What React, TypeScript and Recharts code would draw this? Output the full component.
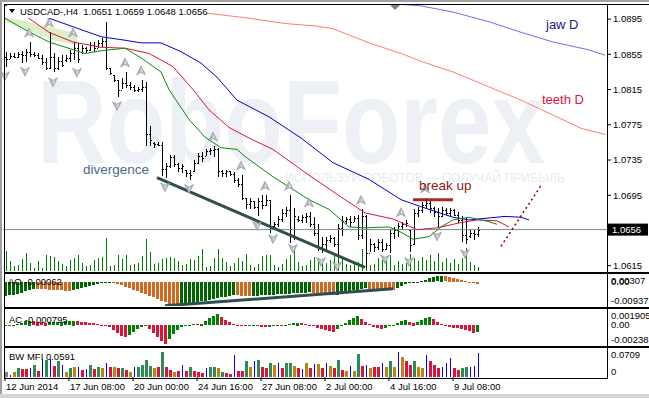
import React from 'react';
import { ComposedChart, Bar, Line, Area, XAxis, YAxis, ReferenceLine } from 'recharts';

// USDCAD H4, one slot = one bar, chart shifted right
const SLOTS = 151;
const FONT = "'Liberation Sans', Arial, sans-serif";

// [open, high, low, close]
const bars: number[][] = [
  [1.0852, 1.0858, 1.0841, 1.0850], [1.0850, 1.0856, 1.0849, 1.0853], [1.0853, 1.0856, 1.0850, 1.0852],
  [1.0852, 1.0858, 1.0851, 1.0855], [1.0855, 1.0859, 1.0845, 1.0854], [1.0854, 1.0861, 1.0846, 1.0858],
  [1.0858, 1.0869, 1.0852, 1.0855], [1.0855, 1.0858, 1.0852, 1.0854], [1.0854, 1.0856, 1.0849, 1.0851],
  [1.0851, 1.0854, 1.0843, 1.0846], [1.0846, 1.0851, 1.0837, 1.0840], [1.0840, 1.0880, 1.0838, 1.0852],
  [1.0852, 1.0856, 1.0834, 1.0840], [1.0840, 1.0852, 1.0837, 1.0847], [1.0847, 1.0854, 1.0840, 1.0843],
  [1.0848, 1.0854, 1.0846, 1.0851], [1.0851, 1.0860, 1.0846, 1.0856], [1.0856, 1.0869, 1.0849, 1.0862],
  [1.0862, 1.0868, 1.0845, 1.0850], [1.0858, 1.0866, 1.0856, 1.0862], [1.0862, 1.0863, 1.0856, 1.0860],
  [1.0860, 1.0869, 1.0859, 1.0866], [1.0866, 1.0869, 1.0858, 1.0862], [1.0862, 1.0871, 1.0862, 1.0868],
  [1.0868, 1.0873, 1.0863, 1.0870], [1.0870, 1.0892, 1.0837, 1.0840], [1.0840, 1.0840, 1.0832, 1.0834],
  [1.0832, 1.0832, 1.0824, 1.0826], [1.0826, 1.0826, 1.0807, 1.0815], [1.0815, 1.0828, 1.0815, 1.0822],
  [1.0822, 1.0835, 1.0817, 1.0820], [1.0820, 1.0824, 1.0815, 1.0818], [1.0818, 1.0820, 1.0812, 1.0815],
  [1.0815, 1.0818, 1.0812, 1.0816], [1.0816, 1.0826, 1.0812, 1.0818], [1.0818, 1.0824, 1.0751, 1.0765],
  [1.0765, 1.0774, 1.0751, 1.0758], [1.0754, 1.0756, 1.0749, 1.0753], [1.0753, 1.0756, 1.0751, 1.0752],
  [1.0752, 1.0755, 1.0716, 1.0725], [1.0725, 1.0732, 1.0715, 1.0728], [1.0728, 1.0741, 1.0726, 1.0738],
  [1.0738, 1.0741, 1.0727, 1.0730], [1.0730, 1.0732, 1.0722, 1.0726], [1.0726, 1.0731, 1.0721, 1.0728],
  [1.0724, 1.0724, 1.0716, 1.0720], [1.0720, 1.0724, 1.0713, 1.0718], [1.0722, 1.0735, 1.0721, 1.0732],
  [1.0732, 1.0743, 1.0730, 1.0740], [1.0740, 1.0744, 1.0733, 1.0737], [1.0739, 1.0747, 1.0739, 1.0745],
  [1.0745, 1.0749, 1.0741, 1.0746], [1.0746, 1.0751, 1.0739, 1.0748], [1.0748, 1.0749, 1.0716, 1.0722],
  [1.0722, 1.0724, 1.0716, 1.0720], [1.0720, 1.0724, 1.0716, 1.0722], [1.0722, 1.0722, 1.0716, 1.0719],
  [1.0719, 1.0721, 1.0709, 1.0712], [1.0712, 1.0715, 1.0705, 1.0708], [1.0708, 1.0718, 1.0690, 1.0692],
  [1.0692, 1.0692, 1.0679, 1.0685], [1.0685, 1.0692, 1.0679, 1.0688], [1.0688, 1.0688, 1.0679, 1.0682],
  [1.0682, 1.0692, 1.0671, 1.0689], [1.0689, 1.0695, 1.0679, 1.0684], [1.0684, 1.0695, 1.0682, 1.0690],
  [1.0690, 1.0690, 1.0652, 1.0660], [1.0660, 1.0665, 1.0656, 1.0662], [1.0662, 1.0671, 1.0659, 1.0668],
  [1.0668, 1.0679, 1.0664, 1.0675], [1.0675, 1.0682, 1.0671, 1.0678], [1.0678, 1.0695, 1.0641, 1.0650],
  [1.0650, 1.0681, 1.0645, 1.0672], [1.0668, 1.0671, 1.0664, 1.0667], [1.0667, 1.0673, 1.0664, 1.0670],
  [1.0670, 1.0675, 1.0664, 1.0672], [1.0672, 1.0676, 1.0659, 1.0662], [1.0662, 1.0670, 1.0648, 1.0652],
  [1.0652, 1.0662, 1.0631, 1.0636], [1.0636, 1.0648, 1.0630, 1.0640], [1.0640, 1.0648, 1.0633, 1.0644],
  [1.0644, 1.0650, 1.0641, 1.0646], [1.0646, 1.0648, 1.0637, 1.0640], [1.0640, 1.0662, 1.0625, 1.0658],
  [1.0658, 1.0671, 1.0648, 1.0666], [1.0666, 1.0670, 1.0662, 1.0668], [1.0668, 1.0671, 1.0659, 1.0665],
  [1.0665, 1.0671, 1.0664, 1.0669], [1.0669, 1.0673, 1.0645, 1.0650], [1.0650, 1.0679, 1.0645, 1.0672],
  [1.0672, 1.0673, 1.0613, 1.0630], [1.0630, 1.0645, 1.0630, 1.0640], [1.0640, 1.0641, 1.0631, 1.0636],
  [1.0636, 1.0645, 1.0633, 1.0642], [1.0642, 1.0645, 1.0630, 1.0634], [1.0634, 1.0641, 1.0633, 1.0638],
  [1.0638, 1.0656, 1.0630, 1.0652], [1.0652, 1.0659, 1.0645, 1.0655], [1.0655, 1.0664, 1.0648, 1.0660],
  [1.0660, 1.0665, 1.0656, 1.0662], [1.0662, 1.0667, 1.0659, 1.0664], [1.0655, 1.0655, 1.0630, 1.0638],
  [1.0640, 1.0679, 1.0638, 1.0675], [1.0675, 1.0682, 1.0671, 1.0678], [1.0678, 1.0687, 1.0675, 1.0684],
  [1.0684, 1.0692, 1.0679, 1.0686], [1.0686, 1.0690, 1.0675, 1.0680], [1.0680, 1.0682, 1.0671, 1.0676],
  [1.0676, 1.0681, 1.0659, 1.0672], [1.0672, 1.0682, 1.0671, 1.0678], [1.0678, 1.0681, 1.0673, 1.0675],
  [1.0675, 1.0681, 1.0671, 1.0678], [1.0678, 1.0679, 1.0671, 1.0673], [1.0673, 1.0676, 1.0664, 1.0667],
  [1.0667, 1.0671, 1.0641, 1.0650], [1.0650, 1.0670, 1.0639, 1.0645], [1.0649, 1.0656, 1.0647, 1.0652],
  [1.0652, 1.0656, 1.0645, 1.0651], [1.0651, 1.0659, 1.0648, 1.0656],
];

const volumes = [
  2000, 1000, 500, 600, 1200, 1800, 800, 300, 1000, 300, 1600, 1500, 1400, 1000, 700, 500, 1100, 1300, 1600, 800,
  500, 600, 1100, 1300, 1400, 3300, 500, 600, 1600, 1200, 1600, 600, 700, 800, 1500, 3200, 1900, 700, 800, 1200,
  1300, 1400, 1300, 1000, 600, 700, 1200, 1100, 1500, 2200, 400, 500, 1300, 2200, 1300, 900, 500, 800, 1300, 1000,
  1700, 600, 400, 700, 1500, 1600, 1600, 600, 400, 700, 1200, 1600, 2500, 900, 500, 600, 1100, 1400, 1300, 700,
  800, 1100, 1500, 2300, 1200, 700, 600, 700, 900, 2200, 2200, 600, 700, 1300, 1100, 1500, 1600, 600, 1000, 700,
  800, 1700, 1300, 1000, 1400, 1100, 1600, 1000, 1800, 900, 1300, 800, 1200, 700, 1300, 2300, 900, 600, 400,
];

const aoValues = [
  -0.0055, -0.0052, -0.0049, -0.0045, -0.0041, -0.0036, -0.0031, -0.0026,
  -0.0027, -0.0028, -0.0029, -0.0030, -0.0031, -0.0032, -0.0033, -0.0034, -0.0035,
  -0.0031, -0.0027, -0.0023, -0.0019, -0.0015, -0.0011, -0.0007, -0.0004, -0.0002, -0.0001,
  -0.0003, -0.0007, -0.0012, -0.0018, -0.0024, -0.0030, -0.0036, -0.0042, -0.0048, -0.0054,
  -0.0060, -0.0066, -0.0072, -0.0078, -0.0084, -0.0089, -0.0093,
  -0.0090, -0.0087, -0.0084, -0.0081, -0.0078, -0.0075, -0.0072, -0.0069, -0.0066, -0.0063,
  -0.0060, -0.0057, -0.0054, -0.0051, -0.0052, -0.0053, -0.0054, -0.0055,
  -0.0054, -0.0053, -0.0052, -0.0051, -0.0050, -0.0049, -0.0048, -0.0047, -0.0046, -0.0045,
  -0.0044, -0.0043, -0.0042, -0.0041, -0.0040,
  -0.0042, -0.0044, -0.0046, -0.0048, -0.0050, -0.0052,
  -0.0049, -0.0045, -0.0041, -0.0037, -0.0033, -0.0030, -0.0027, -0.0025,
  -0.0026, -0.0027, -0.0028, -0.0029, -0.0030, -0.0031, -0.0032,
  -0.0024, -0.0015, -0.0008, -0.0004, -0.0002, 0.0001,
  0.0004, 0.0009, 0.0014, 0.0018, 0.0021, 0.0023,
  0.0021, 0.0018, 0.0014, 0.0010, 0.0006, 0.0003, 0.0001, -0.0002, -0.00062,
];

const acValues = [
  -0.000036, 0, 0.000036, 0.000119, 0.000238, 0.000476, 0.000536, 0.000476, 0.000417, 0.000357,
  0.000298, 0.000321, 0.000357, 0.000381, 0.000417, 0.000452, 0.0005, 0.000536, 0.000476, 0.000405,
  0.000333, 0.000262, 0.00019, 0.000119, 0.000048, -0.000024, -0.000238, -0.000595, -0.000952, -0.001309,
  -0.001428, -0.00119, -0.000833, -0.000476, -0.000238, -0.000119, -0.000476, -0.000952, -0.001428, -0.001904,
  -0.002261, -0.001666, -0.001071, -0.000595, -0.000238, 0, 0.00006, 0.000119, 0.000095, 0.000179,
  0.000476, 0.000833, 0.001071, 0.001309, 0.000952, 0.000595, 0.000357, 0.000119, 0.00006, -0.00006,
  -0.000119, -0.00006, 0.000036, -0.000119, -0.000179, -0.000238, -0.000179, -0.00006, -0.000036, -0.00006,
  -0.000036, 0.000119, 0.000238, 0.000298, 0.000238, 0.000119, 0.00006, -0.000119, -0.000298, -0.000476,
  -0.000595, -0.000714, -0.000774, -0.000476, -0.000119, 0.000238, 0.000595, 0.000833, 0.001071, 0.000714,
  0.000357, 0.000119, -0.000238, -0.000357, -0.000417, -0.000298, -0.000119, 0, 0.000238, 0.000476,
  0.000595, 0.000357, 0.000298, 0.000357, 0.000595, 0.000833, 0.000952, 0.000714, 0.000357, 0.000119,
  -0.00006, -0.000238, -0.000298, -0.000357, -0.000417, -0.000595, -0.000714, -0.000893, -0.000795,
];

const mfiValues = [
  0.0127, 0.0042, 0.0127, 0.0211, 0.0186, 0.0186, 0.0211, 0.0295, 0.0143, 0.0438,
  0.0422, 0.0438, 0.0278, 0.0380, 0.0295, 0.0127, 0.0211, 0.0253, 0.0253, 0.0169,
  0.0186, 0.0295, 0.0186, 0.0253, 0.0211, 0.0337, 0.0253, 0.0253, 0.0211, 0.0228,
  0.0169, 0.0127, 0.0253, 0.0253, 0.0295, 0.0422, 0.0270, 0.0211, 0.0253, 0.0607,
  0.0253, 0.0169, 0.0127, 0.0143, 0.0295, 0.0143, 0.0253, 0.0143, 0.0127, 0.0101,
  0.0211, 0.0253, 0.0253, 0.0211, 0.0127, 0.0101, 0.0084, 0.0549, 0.0143, 0.0143,
  0.0380, 0.0253, 0.0380, 0.0422, 0.0253, 0.0211, 0.0337, 0.0295, 0.0337, 0.0228,
  0.0354, 0.0337, 0.0270, 0.0211, 0.0186, 0.0337, 0.0211, 0.0312, 0.0312, 0.0211,
  0.0337, 0.0270, 0.0211, 0.0422, 0.0169, 0.0143, 0.0270, 0.0143, 0.0565, 0.0270,
  0.0295, 0.0228, 0.0253, 0.0253, 0.0337, 0.0253, 0.0380, 0.0253, 0.0616, 0.0481,
  0.0397, 0.0295, 0.0380, 0.0253, 0.0228, 0.0549, 0.0380, 0.0295, 0.0211, 0.0253,
  0.0337, 0.0464, 0.0228, 0.0169, 0.0228, 0.0253, 0.0253, 0.0278, 0.0591,
];

// g = green, r = squat, y = fade, b = fake, n = first bar
const mfiStates = (
  'nbygrrbgrb' + 'gbrgbygybr' + 'bgrgybryrg' + 'rybggggyrg' + 'rryrbrgrrr' + 'bggygrrbrr' +
  'gybgrrgybr' + 'ggyrbyrbyr' + 'byrgrybygr' + 'byrrbygyby' + 'rrgyybrrrb' + 'bbrrggbbb'
).split('');

// alligator H4 (shifted forward) and D1, [bar slot, price]
const jawPts = [
  [0, 1.0911], [11, 1.0896], [24, 1.0875], [30, 1.0871], [34, 1.0868], [39, 1.0868], [44, 1.0858],
  [49, 1.0845], [53, 1.0829], [58, 1.0803], [66, 1.0784], [74, 1.0760], [82, 1.0732], [91, 1.0713],
  [99, 1.0690], [104, 1.0682], [112, 1.0670], [116, 1.0667], [125, 1.0671], [129, 1.0670], [131, 1.0667],
];
const teethPts = [
  [0, 1.0911], [4, 1.0902], [11, 1.0880], [17, 1.0869], [24, 1.0863], [30, 1.0862], [36, 1.0856],
  [42, 1.0841], [47, 1.0815], [51, 1.0792], [56, 1.0772], [61, 1.0760], [67, 1.0747], [75, 1.0721],
  [84, 1.0693], [90, 1.0675], [97, 1.0668], [103, 1.0656], [108, 1.0658], [114, 1.0664], [118, 1.0667],
  [123, 1.0666], [126, 1.0659],
];
const lipsPts = [
  [0, 1.0896], [5, 1.0883], [11, 1.0869], [20, 1.0856], [24, 1.0859], [30, 1.0862], [34, 1.0851],
  [39, 1.0835], [41, 1.0815], [46, 1.0781], [50, 1.0761], [54, 1.0749], [58, 1.0747], [60, 1.0739],
  [67, 1.0716], [76, 1.0690], [81, 1.0679], [86, 1.0659], [90, 1.0658], [96, 1.0659], [99, 1.0653],
  [102, 1.0645], [106, 1.0648], [109, 1.0659], [112, 1.0667], [116, 1.0670], [121, 1.0665], [123, 1.0662],
];
const jawDPts = [
  [84, 1.0918], [98, 1.0912], [104, 1.0910], [112, 1.0903], [121, 1.0892], [129, 1.0880],
  [137, 1.0869], [146, 1.0860], [150, 1.0854],
];
const teethDPts = [
  [24, 1.0915], [36, 1.0909], [50, 1.0902], [61, 1.0896], [70, 1.0890], [78, 1.0887], [82, 1.0884],
  [91, 1.0868], [99, 1.0856], [104, 1.0847], [112, 1.0835], [121, 1.0818], [129, 1.0803],
  [137, 1.0786], [144, 1.0771], [150, 1.0764],
];
// shaded band [slot, low, high]
const shadePts = [
  [0, 1.0892, 1.0897], [4, 1.0885, 1.0894], [8, 1.0878, 1.0889], [12, 1.0871, 1.0885],
  [16, 1.0867, 1.0881], [18, 1.0866, 1.0879],
];

const fractalUp = [6, 11, 17, 30, 34, 52, 59, 65, 71, 76, 89, 99, 105];
const fractalDown = [0, 5, 12, 18, 28, 40, 46, 63, 67, 72, 79, 83, 95, 101, 108, 115];

const priceTicks = [1.0895, 1.0855, 1.0815, 1.0775, 1.0735, 1.0695, 1.0615];
const lastPrice = 1.0656;
const timeLabels = ['12 Jun 2014', '17 Jun 08:00', '20 Jun 00:00', '24 Jun 16:00', '27 Jun 08:00', '2 Jul 00:00', '4 Jul 16:00', '9 Jul 08:00'];
const timeLabelBars = [0, 16, 32, 48, 64, 80, 96, 112];

const rows: any[] = Array.from({ length: SLOTS }, (_, i) => {
  const b = bars[i];
  const r: any = { i };
  if (b) {
    r.ohlc = b;
    r.hl = [b[2], b[1]];
    r.vol = volumes[i];
    r.ao = aoValues[i];
    r.aoUp = i === 0 || aoValues[i] >= aoValues[i - 1];
    r.ac = acValues[i];
    r.acUp = i === 0 || acValues[i] >= acValues[i - 1];
    r.mfi = mfiValues[i];
    r.mfiState = mfiStates[i];
    r.fUp = fractalUp.includes(i) ? b[1] : null;
    r.fDn = fractalDown.includes(i) ? b[2] : null;
  }
  return r;
});
const put = (key: string, pts: number[][]) => pts.forEach(([i, v]) => { rows[i][key] = v; });
put('jaw', jawPts);
put('teeth', teethPts);
put('lips', lipsPts);
put('jawD', jawDPts);
put('teethD', teethDPts);
shadePts.forEach(([i, lo, hi]) => { rows[i].shade = [lo, hi]; });

const Candle = (p: any) => {
  const { x, y, width, height, payload } = p;
  if (!payload || !payload.ohlc) return <g />;
  const [o, h, l, c] = payload.ohlc;
  const cx = Math.round(x + width / 2);
  const k = h > l ? height / (h - l) : 0;
  const yO = Math.round(y + (h - o) * k);
  const yC = Math.round(y + (h - c) * k);
  return (
    <g fill="#000">
      <rect x={cx} y={Math.round(y)} width={1} height={Math.max(1, Math.round(height))} />
      <rect x={cx - 1} y={yO} width={1} height={1} />
      <rect x={cx + 1} y={yC} width={1} height={1} />
    </g>
  );
};

const VolBar = (p: any) => {
  const { x, y, width, height, payload } = p;
  if (!payload || payload.vol == null) return <g />;
  const cx = Math.round(x + width / 2);
  return <rect x={cx} y={Math.round(y)} width={1} height={Math.round(height)} fill="#008000" />;
};

const Hist = (key: string, colorOf: (r: any) => string) => (p: any) => {
  const { x, y, width, height, payload } = p;
  if (!payload || payload[key] == null) return <g />;
  const top = Math.round(Math.min(y, y + height));
  const h = Math.max(1, Math.round(Math.abs(height)));
  const cx = x + width / 2;
  return <rect x={Math.round(cx - 1.5)} y={top} width={3} height={h} fill={colorOf(payload)} />;
};

const MFI_COLORS: Record<string, string> = { g: '#2e8b57', r: '#dc143c', y: '#b8860b', b: '#0000ff', n: '#808080' };
const MfiBar = (p: any) => {
  const { x, y, width, height, payload } = p;
  if (!payload || payload.mfi == null) return <g />;
  const cx = Math.round(x + width / 2);
  const thin = payload.mfiState === 'b';
  return (
    <rect x={thin ? cx : cx - 1} y={Math.round(y)} width={thin ? 1 : 3}
      height={Math.max(1, Math.round(height))} fill={MFI_COLORS[payload.mfiState]} />
  );
};

const arrowDot = (up: boolean) => (p: any) => {
  const { cx, cy, value, index } = p;
  if (value == null || cy == null || isNaN(cy)) return <g key={index} />;
  const c = up ? cy - 9 : cy + 9;
  const s = up ? 1 : -1;
  return (
    <g key={index}>
      <path d={`M${cx},${c - 5 * s} L${cx + 4.5},${c + 4 * s} L${cx},${c + 1.5 * s} L${cx - 4.5},${c + 4 * s} Z`}
        fill="#b4b8bd" stroke="#8e949b" strokeWidth={0.6} />
      <path d={`M${cx},${c - 3 * s} L${cx + 1.5},${c + 1.5 * s} L${cx},${c + 0.5 * s} Z`} fill="#f4f4f4" />
    </g>
  );
};

const MainTick = (p: any) => {
  const { y, payload } = p;
  return (
    <g>
      <line x1={607} x2={611} y1={y} y2={y} stroke="#000" />
      <text x={613} y={y} dy={3.4} fontSize={9.5} fontFamily={FONT} fill="#000">{payload.value.toFixed(4)}</text>
    </g>
  );
};

const sideTick = (top: number, bottom: number, zero: string) => (p: any) => {
  const { y, payload } = p;
  const v = payload.value;
  const dy = v === top ? 7 : v === bottom ? -5 : 0;
  return (
    <text x={611} y={y + dy} dy={3.4} fontSize={9.5} fontFamily={FONT} fill="#000">
      {v === 0 ? zero : String(v)}
    </text>
  );
};

const TimeTick = (p: any) => {
  const { x, payload } = p;
  const k = timeLabelBars.indexOf(payload.value);
  return (
    <text x={x + 1} y={42} fontSize={9.5} fontFamily={FONT} fill="#000">{timeLabels[k]}</text>
  );
};

const PriceTag = (p: any) => {
  const vb = p.viewBox || {};
  const y = vb.y;
  return (
    <g>
      <rect x={608} y={y - 6} width={40} height={12} fill="#000" />
      <text x={612} y={y} dy={3.4} fontSize={9.5} fontFamily={FONT} fill="#fff">{lastPrice.toFixed(4)}</text>
    </g>
  );
};

const abs = (top: number): React.CSSProperties => ({ position: 'absolute', left: 0, top });

export default function App() {
  return (
    <div style={{ position: 'absolute', left: 0, top: 0, width: 649, height: 398, background: '#fff', overflow: 'hidden' }}>
      {/* watermark */}
      <svg width={649} height={398} style={abs(0)}>
        <text x={37} y={163} fontSize={118} fontWeight="bold" fontFamily={FONT} fill="#edf0f4"
          textLength={508} lengthAdjust="spacingAndGlyphs">RoboForex</text>
        <text x={285} y={182} fontSize={12} fontFamily={FONT} fill="#e8ecf0" textLength={280}
          lengthAdjust="spacingAndGlyphs">ИСПОЛЬЗУЙ РОБОТОВ — ПОЛУЧАЙ ПРИБЫЛЬ</text>
      </svg>

      {/* price window */}
      <ComposedChart width={649} height={268} data={rows} style={abs(4)}
        margin={{ top: 1, right: 0, bottom: 1, left: 3 }}>
        <XAxis dataKey="i" hide />
        <XAxis dataKey="i" xAxisId="v" hide />
        <YAxis orientation="right" width={42} domain={[1.0609, 1.0911]} allowDataOverflow interval={0}
          ticks={priceTicks} axisLine={false} tickLine={false} tick={MainTick} />
        <YAxis yAxisId="v" hide domain={[0, 26600]} allowDataOverflow />
        <Area dataKey="shade" fill="#d9ecc4" fillOpacity={0.9} stroke="none" connectNulls isAnimationActive={false} />
        <Bar dataKey="vol" xAxisId="v" yAxisId="v" barSize={1} shape={VolBar} isAnimationActive={false} />
        <ReferenceLine y={lastPrice} stroke="#7a8896" label={PriceTag} />
        <Line dataKey="teethD" stroke="#fa8072" strokeWidth={1} dot={false} connectNulls isAnimationActive={false} />
        <Line dataKey="jawD" stroke="#7b68ee" strokeWidth={1} dot={false} connectNulls isAnimationActive={false} />
        <Line dataKey="jaw" stroke="#0000d0" strokeWidth={1} dot={false} connectNulls isAnimationActive={false} />
        <Line dataKey="teeth" stroke="#dc143c" strokeWidth={1} dot={false} connectNulls isAnimationActive={false} />
        <Line dataKey="lips" stroke="#118811" strokeWidth={1} dot={false} connectNulls isAnimationActive={false} />
        <Bar dataKey="hl" barSize={3} shape={Candle} isAnimationActive={false} />
        <Line dataKey="fUp" stroke="none" dot={arrowDot(true)} activeDot={false} isAnimationActive={false} />
        <Line dataKey="fDn" stroke="none" dot={arrowDot(false)} activeDot={false} isAnimationActive={false} />
        <ReferenceLine segment={[{ x: 38, y: 1.0715 }, { x: 90, y: 1.0613 }]} stroke="#2f4f4f" strokeWidth={3} />
        <ReferenceLine segment={[{ x: 102, y: 1.0690 }, { x: 112, y: 1.0690 }]} stroke="#a52a2a" strokeWidth={3} />
        <ReferenceLine segment={[{ x: 124, y: 1.0637 }, { x: 134, y: 1.0706 }]} stroke="#8b0000"
          strokeWidth={1.5} strokeDasharray="2 3" />
      </ComposedChart>

      {/* AO */}
      <ComposedChart width={649} height={32} data={rows} style={abs(274)}
        margin={{ top: 0, right: 0, bottom: 0, left: 3 }}>
        <XAxis dataKey="i" hide />
        <YAxis orientation="right" width={42} domain={[-0.00937, 0.00307]} allowDataOverflow interval={0}
          ticks={[0.00307, 0, -0.00937]} axisLine={false} tickLine={false} tick={sideTick(0.00307, -0.00937, '0.00')} />
        <Bar dataKey="ao" barSize={3} isAnimationActive={false}
          shape={Hist('ao', (r) => (r.aoUp ? '#006400' : '#d2691e'))} />
        <ReferenceLine segment={[{ x: 40, y: -0.0093 }, { x: 97, y: -0.0027 }]} stroke="#2f4f4f" strokeWidth={3} />
      </ComposedChart>

      {/* AC */}
      <ComposedChart width={649} height={36} data={rows} style={abs(309)}
        margin={{ top: 0, right: 0, bottom: 0, left: 3 }}>
        <XAxis dataKey="i" hide />
        <YAxis orientation="right" width={42} domain={[-0.00238, 0.001905]} allowDataOverflow interval={0}
          ticks={[0.001905, 0, -0.00238]} axisLine={false} tickLine={false} tick={sideTick(0.001905, -0.00238, '0.00')} />
        <Bar dataKey="ac" barSize={3} isAnimationActive={false}
          shape={Hist('ac', (r) => (r.acUp ? '#008000' : '#dc143c'))} />
      </ComposedChart>

      {/* BW MFI + time axis */}
      <ComposedChart width={649} height={46} data={rows} style={abs(348)}
        margin={{ top: 0, right: 0, bottom: 0, left: 3 }}>
        <XAxis dataKey="i" height={17} ticks={timeLabelBars} interval={0} axisLine={false}
          tickSize={4} tickLine={{ stroke: '#000' }} tick={TimeTick} />
        <YAxis orientation="right" width={42} domain={[0, 0.0709]} allowDataOverflow interval={0}
          ticks={[0.0709, 0]} axisLine={false} tickLine={false} tick={sideTick(0.0709, 0, '0')} />
        <Bar dataKey="mfi" barSize={3} shape={MfiBar} isAnimationActive={false} />
      </ComposedChart>

      {/* frames, header and notes */}
      <svg width={649} height={398} style={{ ...abs(0), pointerEvents: 'none' }}>
        <rect x={0} y={0} width={649} height={2} fill="#a0a0a0" />
        <rect x={0} y={0} width={2} height={398} fill="#a0a0a0" />
        <rect x={0} y={394} width={649} height={4} fill="#d4d4d4" />
        <rect x={4} y={4} width={645} height={1} fill="#000" />
        <rect x={4} y={4} width={1} height={375} fill="#000" />
        <rect x={607} y={4} width={1} height={375} fill="#000" />
        <rect x={4} y={272} width={645} height={2} fill="#000" />
        <rect x={4} y={307} width={645} height={2} fill="#000" />
        <rect x={4} y={346} width={645} height={2} fill="#000" />
        <rect x={4} y={378} width={604} height={1} fill="#000" />
        <path d="M390,5 L400,5 L395,10 Z" fill="#808080" />

        <rect x={7} y={5} width={200} height={13} fill="#fff" />
        <path d="M9,9 L15,9 L12,13 Z" fill="#000" />
        <text x={20} y={15} fontSize={9.5} fontFamily={FONT} fill="#000" xmlSpace="preserve">
          USDCAD-,H4  1.0651 1.0659 1.0648 1.0656
        </text>

        <text x={8} y={285} fontSize={9.5} fontFamily={FONT} fill="#000">AO -0.00062</text>
        <text x={9} y={323} fontSize={9.5} fontFamily={FONT} fill="#000">AC -0.000795</text>
        <text x={9} y={360} fontSize={9.5} fontFamily={FONT} fill="#000">BW MFI 0.0591</text>

        <text x={83} y={174} fontSize={13.5} fontFamily={FONT} fill="#4a6a8a">divergence</text>
        <text x={419} y={190} fontSize={13.5} fontFamily={FONT} fill="#8b1a1a">break up</text>
        <text x={546} y={29} fontSize={13} fontFamily={FONT} fill="#191980">jaw D</text>
        <text x={542} y={104} fontSize={13} fontFamily={FONT} fill="#dc143c">teeth D</text>
      </svg>
    </div>
  );
}
